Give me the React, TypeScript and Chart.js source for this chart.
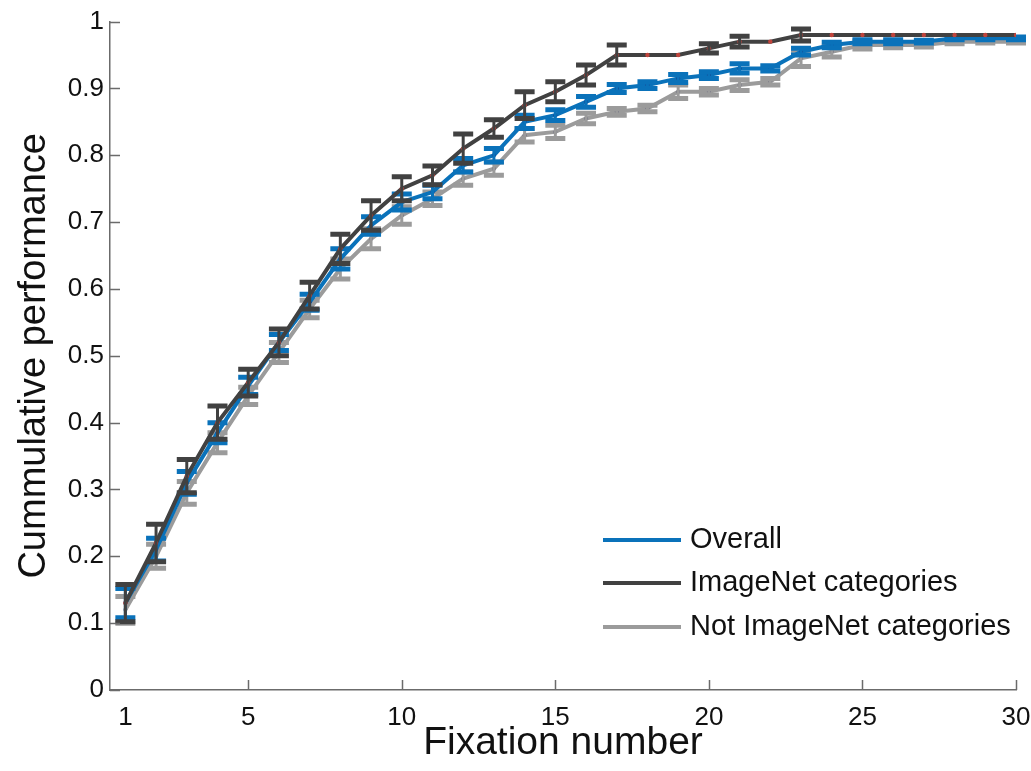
import { useEffect, useRef } from "react";
import { Chart, registerables } from "chart.js";

Chart.register(...registerables);

const fixationNumbers = [1, 2, 3, 4, 5, 6, 7, 8, 9, 10, 11, 12, 13, 14, 15, 16, 17, 18, 19, 20, 21, 22, 23, 24, 25, 26, 27, 28, 29, 30];

const overallValues = [0.13, 0.21, 0.31, 0.385, 0.455, 0.52, 0.58, 0.645, 0.695, 0.73, 0.745, 0.785, 0.8, 0.85, 0.86, 0.88, 0.9, 0.905, 0.915, 0.92, 0.93, 0.93, 0.955, 0.965, 0.97, 0.97, 0.97, 0.975, 0.975, 0.975];
const overallErrors = [0.022, 0.017, 0.017, 0.015, 0.013, 0.012, 0.012, 0.015, 0.013, 0.012, 0.01, 0.01, 0.01, 0.01, 0.008, 0.008, 0.006, 0.005, 0.006, 0.005, 0.007, 0.004, 0.005, 0.004, 0.003, 0.003, 0.002, 0.002, 0.002, 0.002];

const imagenetValues = [0.13, 0.22, 0.32, 0.4, 0.46, 0.52, 0.59, 0.66, 0.71, 0.75, 0.77, 0.81, 0.84, 0.875, 0.895, 0.92, 0.95, 0.95, 0.95, 0.96, 0.97, 0.97, 0.98, 0.98, 0.98, 0.98, 0.98, 0.98, 0.98, 0.98];
const imagenetErrors = [0.028, 0.028, 0.025, 0.025, 0.02, 0.02, 0.02, 0.022, 0.022, 0.018, 0.014, 0.022, 0.013, 0.02, 0.015, 0.015, 0.015, 0, 0, 0.007, 0.008, 0, 0.009, 0, 0, 0, 0, 0, 0, 0];

const notImagenetValues = [0.12, 0.2, 0.295, 0.37, 0.44, 0.505, 0.57, 0.63, 0.675, 0.71, 0.735, 0.765, 0.78, 0.83, 0.835, 0.855, 0.865, 0.87, 0.895, 0.895, 0.905, 0.91, 0.945, 0.955, 0.965, 0.965, 0.965, 0.97, 0.97, 0.97];
const notImagenetErrors = [0.02, 0.018, 0.017, 0.015, 0.013, 0.015, 0.013, 0.015, 0.015, 0.013, 0.01, 0.01, 0.01, 0.01, 0.01, 0.008, 0.005, 0.005, 0.01, 0.005, 0.008, 0.005, 0.012, 0.008, 0.006, 0.004, 0.003, 0.003, 0.002, 0.002];

const seriesLabels = ["Overall", "ImageNet categories", "Not ImageNet categories"];
const xTickValues = [1, 5, 10, 15, 20, 25, 30];
const yTickValues = [0, 0.1, 0.2, 0.3, 0.4, 0.5, 0.6, 0.7, 0.8, 0.9, 1];
const xAxisTitle = "Fixation number";
const yAxisTitle = "Cummulative performance";

const FONT = "'Liberation Sans', Arial, Helvetica, sans-serif";
const AXIS_COLOR = "#6b6b6b";
const BLUE = "#0a72ba";
const DARK = "#414141";
const LIGHT = "#9b9b9b";

const errorBarPlugin = {
  id: "errorBars",
  afterDatasetDraw(chart: any, args: any) {
    const ds = chart.data.datasets[args.index] as any;
    const errs: number[] | undefined = ds.errors;
    if (!errs) return;
    const xs = chart.scales.x;
    const ys = chart.scales.y;
    const ctx = chart.ctx;
    ctx.save();
    ctx.strokeStyle = ds.borderColor;
    ctx.lineCap = "butt";
    ds.data.forEach((pt: any, i: number) => {
      const e = errs[i];
      if (!e) return;
      const px = xs.getPixelForValue(pt.x);
      const yTop = ys.getPixelForValue(pt.y + e);
      const yBot = ys.getPixelForValue(pt.y - e);
      ctx.lineWidth = 3;
      ctx.beginPath();
      ctx.moveTo(px, yTop);
      ctx.lineTo(px, yBot);
      ctx.stroke();
      ctx.lineWidth = 5;
      ctx.beginPath();
      ctx.moveTo(px - 10, yTop);
      ctx.lineTo(px + 10, yTop);
      ctx.moveTo(px - 10, yBot);
      ctx.lineTo(px + 10, yBot);
      ctx.stroke();
    });
    ctx.restore();
  },
};

const inwardTicksPlugin = {
  id: "inwardTicks",
  afterDraw(chart: any) {
    const ctx = chart.ctx;
    const { left, bottom } = chart.chartArea;
    const xs = chart.scales.x;
    const ys = chart.scales.y;
    ctx.save();
    ctx.strokeStyle = AXIS_COLOR;
    ctx.lineWidth = 1.5;
    ctx.beginPath();
    yTickValues.forEach((v) => {
      const py = Math.round(ys.getPixelForValue(v)) + 0.5;
      ctx.moveTo(left, py);
      ctx.lineTo(left + 10, py);
    });
    xTickValues.forEach((v) => {
      if (v === 1) return;
      const px = Math.round(xs.getPixelForValue(v)) + 0.5;
      ctx.moveTo(px, bottom);
      ctx.lineTo(px, bottom - 10);
    });
    ctx.stroke();
    ctx.restore();
  },
};

const insideLegendPlugin = {
  id: "insideLegend",
  afterDraw(chart: any) {
    const ctx = chart.ctx;
    const { right, bottom } = chart.chartArea;
    const x0 = right - 413;
    const rowYs = [bottom - 150, bottom - 107, bottom - 63];
    ctx.save();
    ctx.font = `29px ${FONT}`;
    ctx.textBaseline = "middle";
    ctx.textAlign = "left";
    chart.data.datasets.forEach((ds: any, i: number) => {
      const y = rowYs[i];
      ctx.strokeStyle = ds.borderColor;
      ctx.lineWidth = 4;
      ctx.beginPath();
      ctx.moveTo(x0, y);
      ctx.lineTo(x0 + 78, y);
      ctx.stroke();
      ctx.fillStyle = "#111";
      ctx.fillText(ds.label, x0 + 87, y);
    });
    ctx.restore();
  },
};

function toPoints(values: number[]) {
  return fixationNumbers.map((f, i) => ({ x: f, y: values[i] }));
}

export default function App() {
  const canvasRef = useRef<HTMLCanvasElement | null>(null);

  useEffect(() => {
    document.body.style.margin = "0";
    const canvas = canvasRef.current;
    if (!canvas) return;
    const chart = new Chart(canvas, {
      type: "line",
      data: {
        datasets: [
          {
            label: seriesLabels[0],
            data: toPoints(overallValues),
            errors: overallErrors,
            borderColor: BLUE,
            backgroundColor: BLUE,
            borderWidth: 4,
            pointRadius: 2,
            pointBackgroundColor: "#1c3f8a",
            pointBorderWidth: 0,
            tension: 0,
            order: 1,
          } as any,
          {
            label: seriesLabels[1],
            data: toPoints(imagenetValues),
            errors: imagenetErrors,
            borderColor: DARK,
            backgroundColor: DARK,
            borderWidth: 4,
            pointRadius: 2.2,
            pointBackgroundColor: "#c0443c",
            pointBorderWidth: 0,
            tension: 0,
            order: 0,
          } as any,
          {
            label: seriesLabels[2],
            data: toPoints(notImagenetValues),
            errors: notImagenetErrors,
            borderColor: LIGHT,
            backgroundColor: LIGHT,
            borderWidth: 4,
            pointRadius: 2,
            pointBackgroundColor: "#6d6d80",
            pointBorderWidth: 0,
            tension: 0,
            order: 2,
          } as any,
        ],
      },
      options: {
        responsive: false,
        animation: false,
        events: [],
        layout: { padding: { top: 3, right: 0, left: 0, bottom: 0 } },
        plugins: {
          legend: { display: false },
          tooltip: { enabled: false },
        },
        scales: {
          x: {
            type: "linear",
            min: 0.5,
            max: 30,
            afterBuildTicks: (scale: any) => {
              scale.ticks = xTickValues.map((v) => ({ value: v }));
            },
            afterFit: (scale: any) => {
              scale.height = 81;
              scale.paddingRight = 15;
            },
            grid: { display: false, drawTicks: false },
            border: { display: true, color: AXIS_COLOR, width: 1.5 },
            ticks: {
              autoSkip: false,
              maxRotation: 0,
              padding: 12,
              color: "#111",
              font: { family: FONT, size: 26 },
              callback: (v: any) => String(v),
            },
            title: {
              display: true,
              text: xAxisTitle,
              color: "#111",
              font: { family: FONT, size: 39 },
              padding: { top: 0, bottom: 4 },
            },
          },
          y: {
            type: "linear",
            min: 0,
            max: 1,
            afterBuildTicks: (scale: any) => {
              scale.ticks = yTickValues.map((v) => ({ value: v }));
            },
            afterFit: (scale: any) => {
              scale.width = 110;
            },
            grid: { display: false, drawTicks: false },
            border: { display: true, color: AXIS_COLOR, width: 1.5 },
            ticks: {
              autoSkip: false,
              padding: 6,
              color: "#111",
              font: { family: FONT, size: 26 },
              callback: (v: any) => String(Math.round(Number(v) * 10) / 10),
            },
            title: {
              display: true,
              text: yAxisTitle,
              color: "#111",
              font: { family: FONT, size: 38 },
              padding: { top: 12, bottom: 0 },
            },
          },
        },
      } as any,
      plugins: [errorBarPlugin, inwardTicksPlugin, insideLegendPlugin],
    });
    return () => chart.destroy();
  }, []);

  return (
    <div style={{ width: 1031, height: 771, position: "relative", background: "#fff" }}>
      <canvas ref={canvasRef} width={1031} height={771} />
    </div>
  );
}
